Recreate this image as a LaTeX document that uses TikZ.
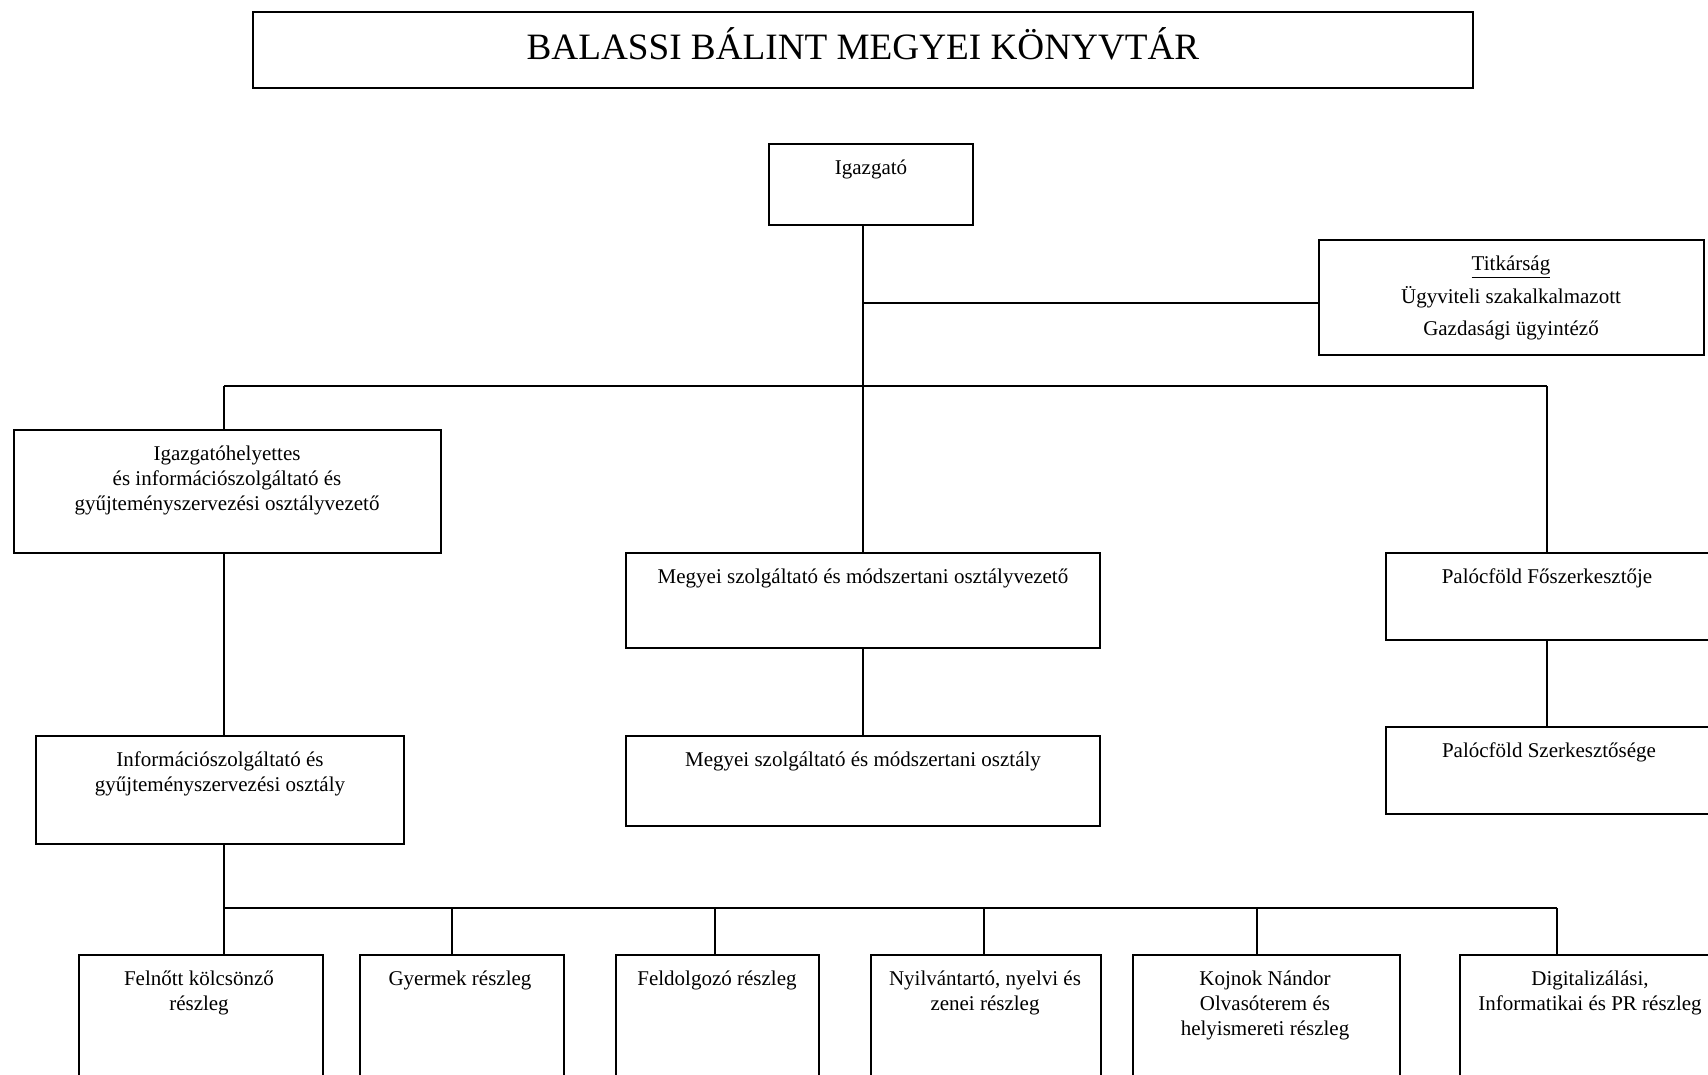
\documentclass[tikz,border=0pt]{standalone}
\usepackage{fontspec}
\setmainfont{Liberation Serif}
\begin{document}
\begin{tikzpicture}[x=0.5pt,y=-0.5pt,
  box/.style={draw, line width=1pt, rectangle, inner sep=0pt, outer sep=0pt, anchor=north west},
  lbl/.style={inner sep=0pt, align=center, anchor=north, font=\fontsize{10.5}{12.5}\selectfont},
  conn/.style={line width=1pt}]
\useasboundingbox (0,0) rectangle (1708,1075);
\clip (0,0) rectangle (1708,1075);
\newcommand\obox[5]{\node[box, minimum width={(#4-#2)*0.5pt}, minimum height={(#5-#3)*0.5pt}] (#1) at (#2,#3) {};}
% boxes
\obox{title}{253}{12}{1473}{88}
\obox{ig}{769}{144}{973}{225}
\obox{tit}{1319}{240}{1704}{355}
\obox{ih}{14}{430}{441}{553}
\obox{mo}{626}{553}{1100}{648}
\obox{pf}{1386}{553}{1712}{640}
\obox{io}{36}{736}{404}{844}
\obox{mm}{626}{736}{1100}{826}
\obox{ps}{1386}{727}{1712}{814}
\obox{f1}{79}{955}{323}{1120}
\obox{f2}{360}{955}{564}{1120}
\obox{f3}{616}{955}{819}{1120}
\obox{f4}{871}{955}{1101}{1120}
\obox{f5}{1133}{955}{1400}{1120}
\obox{f6}{1460}{955}{1720}{1120}
% texts
\node[inner sep=0pt, anchor=base, font=\fontsize{18.6}{22}\selectfont] (title-t) at (863,60) {BALASSI BÁLINT MEGYEI KÖNYVTÁR};
\node[lbl] (ig-t) at (871,157) {\strut Igazgató};
\node[lbl, font=\fontsize{10.5}{16.4}\selectfont] (tit-t) at (1511,247) {\strut\underline{Titkárság}\\Ügyviteli szakalkalmazott\\Gazdasági ügyintéző};
\node[lbl] (ih-t) at (227,443) {\strut Igazgatóhelyettes\\és információszolgáltató és\\gyűjteményszervezési osztályvezető};
\node[lbl] (mo-t) at (863,566) {\strut Megyei szolgáltató és módszertani osztályvezető};
\node[lbl] (pf-t) at (1547,566) {\strut Palócföld Főszerkesztője};
\node[lbl] (io-t) at (220,749) {\strut Információszolgáltató és\\gyűjteményszervezési osztály};
\node[lbl] (mm-t) at (863,749) {\strut Megyei szolgáltató és módszertani osztály};
\node[lbl] (ps-t) at (1549,740) {\strut Palócföld Szerkesztősége};
\node[lbl] (f1-t) at (199,968) {\strut Felnőtt kölcsönző\\részleg};
\node[lbl] (f2-t) at (460,968) {\strut Gyermek részleg};
\node[lbl] (f3-t) at (717,968) {\strut Feldolgozó részleg};
\node[lbl] (f4-t) at (985,968) {\strut Nyilvántartó, nyelvi és\\zenei részleg};
\node[lbl] (f5-t) at (1265,968) {\strut Kojnok Nándor\\Olvasóterem és\\helyismereti részleg};
\node[lbl] (f6-t) at (1590,968) {\strut Digitalizálási,\\Informatikai és PR részleg};
% connectors
\coordinate (tj) at (864,303);
\coordinate (bL) at (224,386);
\coordinate (bR) at (1547,386);
\coordinate (cL) at (224,908);
\coordinate (cR) at (1557,908);
\draw[conn] (mo.north |- ig.south) -- (mo.north);
\draw[conn] (tj) -- (tj -| tit.west);
\draw[conn] (bL) -- (bR);
\draw[conn] (bL) -- (bL |- ih.north);
\draw[conn] (bR) -- (bR |- pf.north);
\draw[conn] (bR |- pf.south) -- (bR |- ps.north);
\draw[conn] (mo.south) -- (mm.north);
\draw[conn] (bL |- ih.south) -- (bL |- io.north);
\draw[conn] (bL |- io.south) -- (cL);
\draw[conn] (cL) -- (cR);
\foreach \n/\x in {f1/224, f2/452, f3/715, f4/984, f5/1257, f6/1557}{
  \draw[conn] (\x,908) -- (\x,908 |- \n.north);
}
\end{tikzpicture}
\end{document}
